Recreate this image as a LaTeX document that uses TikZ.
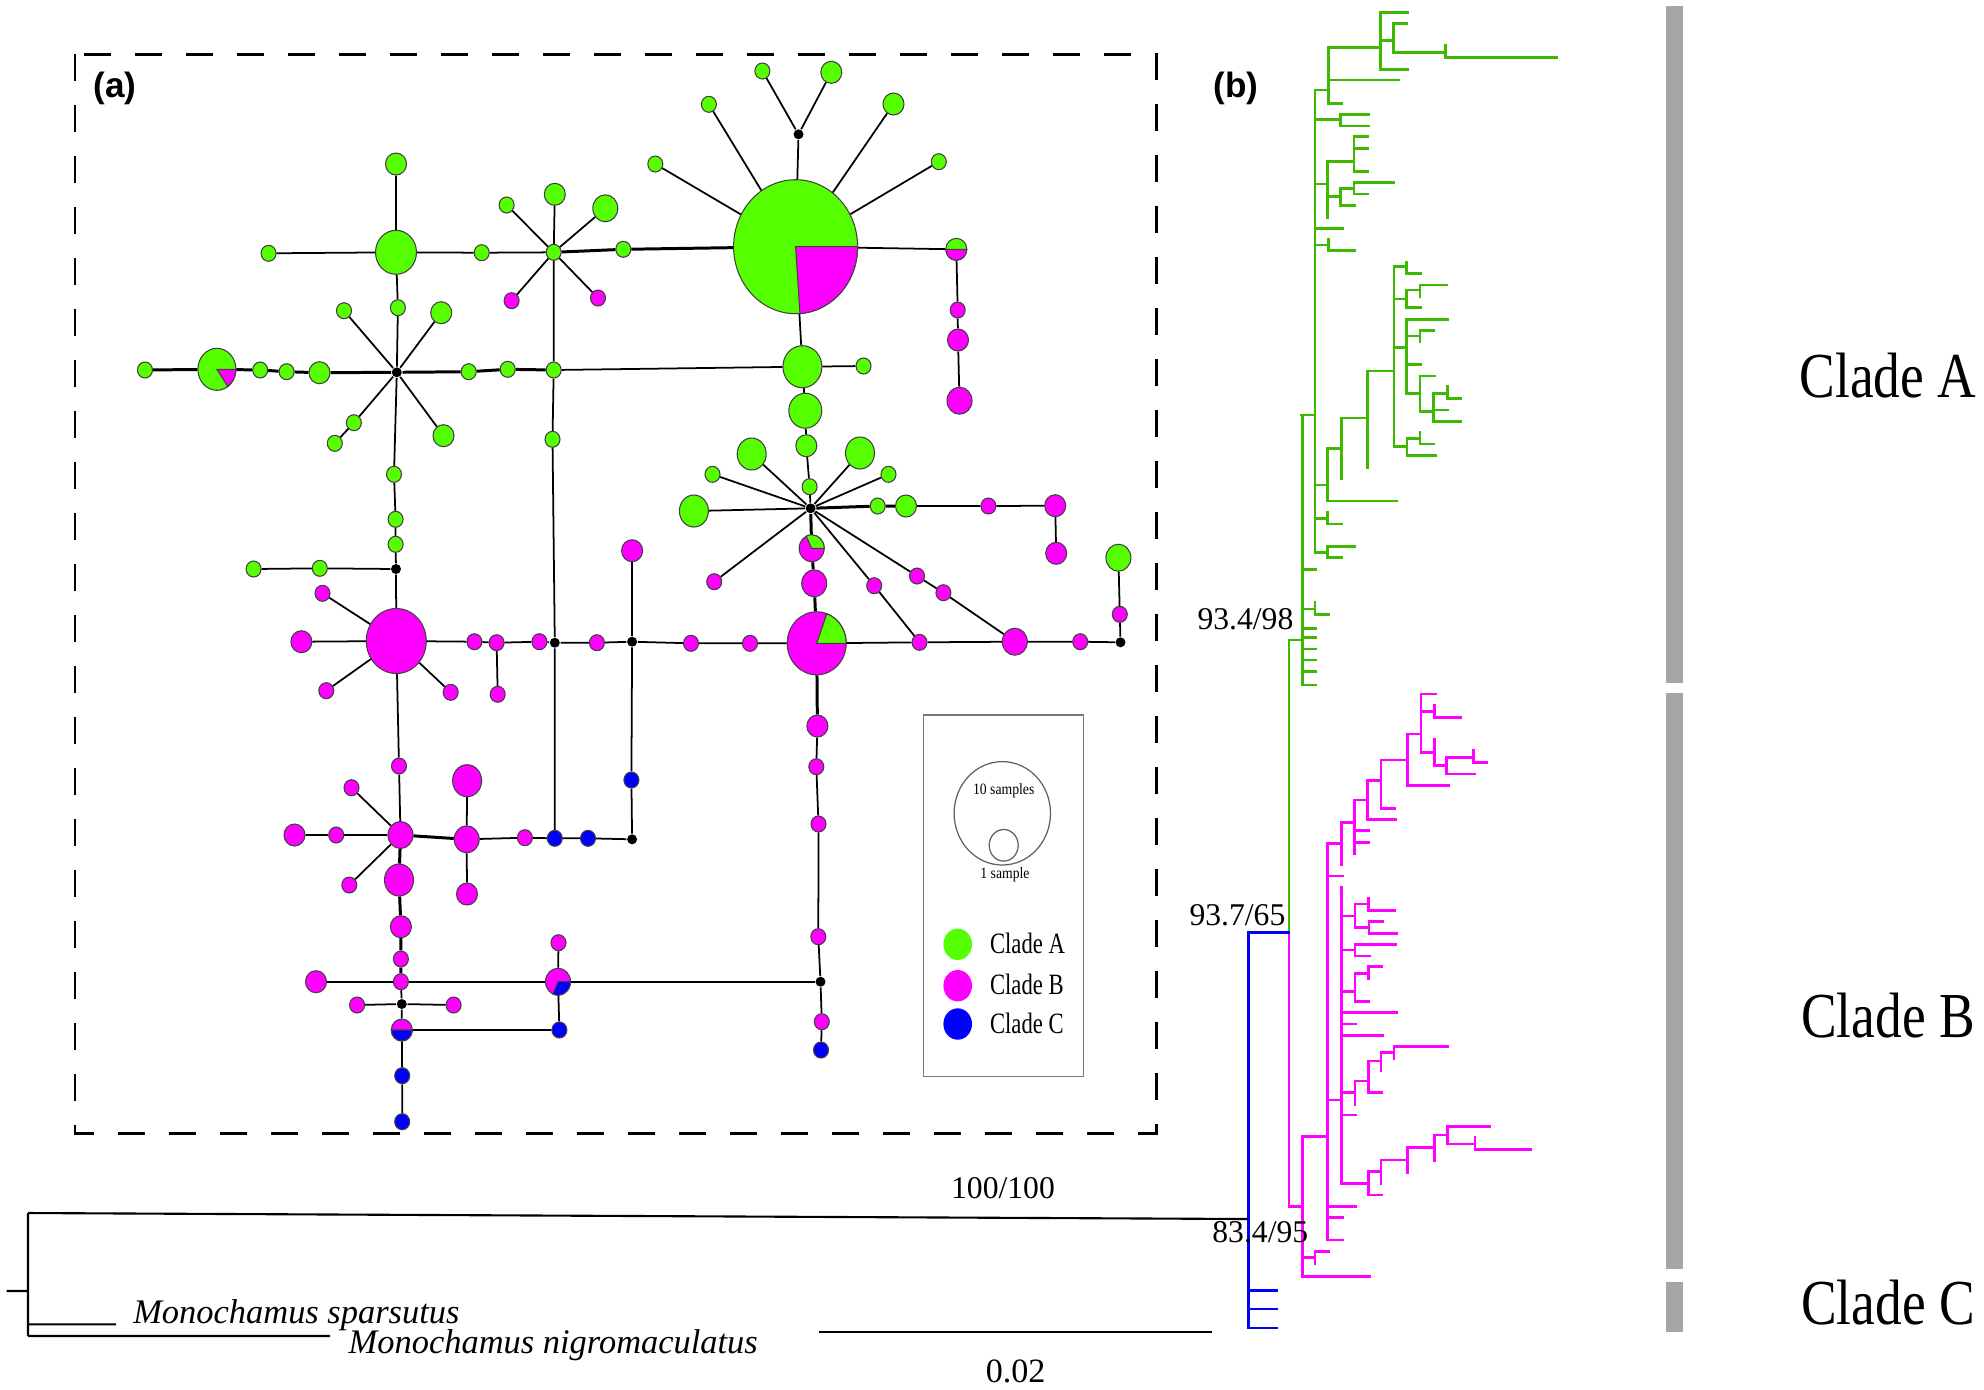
\documentclass[tikz,border=0pt]{standalone}
\usepackage{fontspec}
\setmainfont{Liberation Serif}
\newfontfamily\panelfont{Liberation Sans}
\usetikzlibrary{shapes.geometric}

\definecolor{cladeA}{RGB}{85,255,0}
\definecolor{treeA}{RGB}{60,185,0}
\definecolor{cladeB}{RGB}{255,0,255}
\definecolor{cladeC}{RGB}{0,0,255}
\definecolor{barg}{RGB}{166,166,166}
\definecolor{boxg}{RGB}{120,120,120}

\tikzset{
  hap/.style={ellipse, draw=black!75, line width=0.3pt, inner sep=0pt},
  hA/.style={hap, fill=cladeA},
  hB/.style={hap, fill=cladeB},
  hC/.style={hap, fill=cladeC},
  sz1/.style={minimum width=1.5mm, minimum height=1.6mm},
  sz2/.style={minimum width=2.1mm, minimum height=2.2mm},
  sz3/.style={minimum width=2.5mm, minimum height=2.7mm},
  sz4/.style={minimum width=2.9mm, minimum height=3.2mm},
  mv/.style={circle, fill=black, inner sep=0pt, minimum size=1mm},
  lnk/.style={line width=0.5pt},
  lnkb/.style={line width=0.85pt},
  pieedge/.style={draw=black!75, line width=0.3pt},
  br/.style={line width=0.7pt, line cap=rect},
  tlbl/.style={font=\fontsize{9}{11}\selectfont, inner sep=0pt},
  clbl/.style={font=\fontsize{15.2}{18}\selectfont, inner sep=0pt},
  panel/.style={font=\panelfont\bfseries\fontsize{10}{12}\selectfont, inner sep=0pt},
  leg/.style={font=\fontsize{6.45}{8}\selectfont, inner sep=0pt},
  legs/.style={font=\fontsize{3.9}{4.7}\selectfont, inner sep=0pt},
  spname/.style={font=\itshape\fontsize{9.8}{12}\selectfont, inner sep=0pt},
}

\begin{document}
\begin{tikzpicture}[x=0.1mm, y=-0.1mm]
\useasboundingbox (0,0) rectangle (1984,1389);

% (a) haplotype network
\draw[line width=0.85pt, dash pattern=on 2.7mm off 2.4mm] (75,54) rectangle (1156,1133);
\node[panel] (pa) at (115,88) {(a)};

% clade A core
\node[hA, minimum width=12.4mm, minimum height=13.4mm] (H) at (795.6,246.7) {};
\node[mv] (k1) at (798.5,134.3) {};
\node[hA,sz1] (g1) at (762.4,71) {};
\node[hA,sz2] (g2) at (831.3,72.3) {};
\node[hA,sz1] (g3) at (708.9,104.3) {};
\node[hA,sz2] (g4) at (893.5,104) {};
\node[hA,sz1] (g5) at (655.3,164) {};
\node[hA,sz1] (g6) at (938.8,161.7) {};
\node[hA,sz2] (gm1) at (956.3,249.3) {};
\node[hB,sz1] (m1) at (957.7,310) {};
\node[hB,sz2] (m2) at (958,340) {};
\node[hB,sz3] (m3) at (959.5,400.7) {};
\node[hA,sz1] (g7) at (623.3,249.3) {};
\node[hA,sz3] (g8) at (605.3,208.3) {};
\node[hB,sz1] (m4) at (598,298) {};
\node[hA,sz1] (g10) at (553.7,252.3) {};
\node[hA,sz1] (g11) at (506.6,205) {};
\node[hA,sz2] (g12) at (554.8,194.3) {};
\node[hB,sz1] (m5) at (511.6,300.7) {};
\node[hA,sz1] (g13) at (481.7,252.7) {};
\node[hA, minimum width=4.1mm, minimum height=4.4mm] (g14) at (396,252.3) {};
\node[hA,sz2] (g15) at (396,164) {};
\node[hA,sz1] (g16) at (268.6,253.3) {};
\node[hA,sz1] (g17) at (397.9,307.7) {};
\node[mv] (k2) at (396.8,372.3) {};
\node[hA,sz1] (g18) at (344,310.7) {};
\node[hA,sz2] (g19) at (441.2,312.7) {};
\node[hA,sz1] (g20) at (353.9,422.7) {};
\node[hA,sz1] (g21) at (334.8,443.3) {};
\node[hA,sz2] (g22) at (443.5,435.7) {};
\node[hA,sz1] (g23) at (394,474.3) {};
\node[hA,sz1] (g24) at (145,370) {};
\node[hA, minimum width=3.8mm, minimum height=4.2mm] (P1) at (216.9,369.3) {};
\node[hA,sz1] (g25) at (260.2,370) {};
\node[hA,sz1] (g26) at (286.6,371.7) {};
\node[hA,sz2] (g27) at (319.5,372.7) {};
\node[hA,sz1] (g28) at (468.7,371.7) {};
\node[hA,sz1] (g29) at (507.7,369.3) {};
\node[hA,sz1] (g30) at (553.7,370) {};
\node[hA,sz1] (g31) at (552.5,439.3) {};
\node[hA, minimum width=3.9mm, minimum height=4.2mm] (g32) at (802.4,366.7) {};
\node[hA,sz1] (g33) at (863.5,366) {};
\node[hA, minimum width=3.3mm, minimum height=3.5mm] (g34) at (805.3,410.7) {};
\node[hA,sz2] (g35) at (806.3,445.7) {};
\node[hA,sz1] (g36) at (809.6,486.7) {};
\node[mv] (k3) at (810.6,508.3) {};
\node[hA,sz4] (g37) at (751.7,454) {};
\node[hA,sz4] (g38) at (860,453) {};
\node[hA,sz1] (g39) at (712.5,474.3) {};
\node[hA,sz1] (g40) at (888.5,474.3) {};
\node[hA,sz4] (g41) at (693.9,511) {};
\node[hA,sz1] (g42) at (877.7,506) {};
\node[hA,sz2] (g43) at (906,506) {};
\node[hB,sz1] (m6) at (988.4,506) {};
\node[hB,sz2] (m7) at (1055.2,505.7) {};
\node[hB,sz2] (m8) at (1056.2,553.3) {};
\node[hB,sz1] (m9) at (714.2,581.7) {};
\node[hB,sz3] (P3) at (811.7,548.3) {};
\node[hB,sz3] (m10) at (814.2,583.3) {};
\node[hB, minimum width=5.9mm, minimum height=6.3mm] (P2) at (816.7,643.3) {};
\node[hB,sz1] (m11) at (874.2,585.7) {};
\node[hB,sz1] (m12) at (919.5,642.3) {};
\node[hB,sz1] (m13) at (917,576) {};
\node[hB,sz1] (m14) at (943.4,592.7) {};
\node[hB,sz3] (m15) at (1014.8,641.7) {};
\node[hB,sz1] (m16) at (1080.2,641.7) {};
\node[mv] (k4) at (1120.5,642.3) {};
\node[hB,sz1] (m17) at (1119.8,614.3) {};
\node[hA,sz3] (g44) at (1118.4,557.7) {};
\node[hB,sz1] (m18) at (691,643.3) {};
\node[hB,sz1] (m19) at (750,643.3) {};
\node[mv] (k5) at (632.1,641.7) {};
\node[hB,sz2] (m20) at (632.1,550.7) {};
\node[hC,sz1] (b1) at (631.4,780) {};
\node[mv] (k6) at (632.1,839.3) {};
\node[hB,sz2] (m21) at (817.4,726) {};
\node[hB,sz1] (m22) at (816.3,766.7) {};
\node[hB,sz1] (m23) at (818.5,824) {};
\node[hB,sz1] (m24) at (818.3,936.7) {};
\node[mv] (k7) at (820.5,981.7) {};
\node[hB,sz1] (m25) at (821.8,1021.7) {};
\node[hC,sz1] (b2) at (821,1050) {};

% clade B core
\node[hA,sz1] (g45) at (395.6,519.3) {};
\node[hA,sz1] (g46) at (395.6,544.3) {};
\node[mv] (k8) at (396,569) {};
\node[hA,sz1] (g47) at (319.8,568.3) {};
\node[hA,sz1] (g48) at (253.6,569) {};
\node[hB, minimum width=6mm, minimum height=6.5mm] (m26) at (396.3,641) {};
\node[hB,sz1] (m27) at (322.5,593.3) {};
\node[hB,sz2] (m28) at (301.4,641.7) {};
\node[hB,sz1] (m29) at (326.3,690.7) {};
\node[hB,sz1] (m30) at (450.7,692.3) {};
\node[hB,sz1] (m31) at (474.4,641.7) {};
\node[hB,sz1] (m32) at (496.6,642.7) {};
\node[hB,sz1] (m33) at (497.7,694.3) {};
\node[hB,sz1] (m34) at (539.4,641.7) {};
\node[mv] (k9) at (554.8,642.7) {};
\node[hB,sz1] (m35) at (596.9,642.7) {};
\node[hB,sz1] (m36) at (399,766) {};
\node[hB,sz3] (m37) at (400.5,835) {};
\node[hB,sz1] (m38) at (351.5,787.7) {};
\node[hB,sz1] (m39) at (336.2,835) {};
\node[hB,sz2] (m40) at (294.5,835) {};
\node[hB,sz1] (m41) at (349.3,885) {};
\node[hB,sz4] (m42) at (399,880) {};
\node[hB,sz3] (m43) at (466.7,839.3) {};
\node[hB,sz4] (m44) at (467.1,780.7) {};
\node[hB,sz2] (m45) at (467,894) {};
\node[hB,sz1] (m46) at (524.9,837.7) {};
\node[hC,sz1] (b3) at (554.8,838.3) {};
\node[hC,sz1] (b4) at (588,838.3) {};
\node[hB,sz2] (m47) at (400.9,926.7) {};
\node[hB,sz1] (m48) at (400.9,959) {};
\node[hB,sz1] (m49) at (400.9,981.7) {};
\node[hB,sz2] (m50) at (316,981.7) {};
\node[mv] (k10) at (401.8,1004) {};
\node[hB,sz1] (m51) at (357.1,1005) {};
\node[hB,sz1] (m52) at (453.6,1005) {};
\node[hB,sz2] (P4) at (401.8,1030) {};
\node[hC,sz1] (b5) at (402.2,1075.7) {};
\node[hC,sz1] (b6) at (402.2,1121.7) {};
\node[hB,sz1] (m53) at (558.5,942.7) {};
\node[hB,sz3] (P5) at (558,981.7) {};
\node[hC,sz1] (b7) at (559.4,1030) {};

% mixed haplotypes
\filldraw[pieedge, fill=cladeB] (H.center) -- ++(-86:6.2mm and 6.7mm) arc[start angle=-86, end angle=0, x radius=6.2mm, y radius=6.7mm] -- cycle;
\filldraw[pieedge, fill=cladeB] (gm1.center) -- ++(180:1.05mm and 1.1mm) arc[start angle=180, end angle=360, x radius=1.05mm, y radius=1.1mm] -- cycle;
\filldraw[pieedge, fill=cladeB] (P1.center) -- ++(-55:1.9mm and 2.1mm) arc[start angle=-55, end angle=0, x radius=1.9mm, y radius=2.1mm] -- cycle;
\filldraw[pieedge, fill=cladeA] (P3.center) -- ++(0:1.25mm and 1.35mm) arc[start angle=0, end angle=116, x radius=1.25mm, y radius=1.35mm] -- cycle;
\filldraw[pieedge, fill=cladeA] (P2.center) -- ++(0:2.95mm and 3.15mm) arc[start angle=0, end angle=70, x radius=2.95mm, y radius=3.15mm] -- cycle;
\filldraw[pieedge, fill=cladeC] (P4.center) -- ++(180:1.05mm and 1.1mm) arc[start angle=180, end angle=360, x radius=1.05mm, y radius=1.1mm] -- cycle;
\filldraw[pieedge, fill=cladeC] (P5.center) -- ++(-114:1.25mm and 1.35mm) arc[start angle=-114, end angle=0, x radius=1.25mm, y radius=1.35mm] -- cycle;

% links
\draw[lnk] (H) -- (k1) (k1) -- (g1) (k1) -- (g2) (H) -- (g3) (H) -- (g4) (H) -- (g5) (H) -- (g6) (H) -- (gm1) -- (m1) -- (m2) -- (m3);
\draw[lnkb] (g10) -- (g7) -- (H);
\draw[lnk] (H) -- (g32) -- (g34) -- (g35) -- (g36) -- (k3);
\draw[lnk] (g32) -- (g33);
\draw[lnk] (g10) -- (g11) (g10) -- (g12) (g10) -- (g8) (g10) -- (m5) (g10) -- (m4) (g10) -- (g13) -- (g14);
\draw[lnk] (g10) -- (g30) -- (g31) -- (k9) -- (b3);
\draw[lnk] (g14) -- (g15) (g14) -- (g16) (g14) -- (g17) -- (k2);
\draw[lnk] (k2) -- (g18) (k2) -- (g19) (k2) -- (g20) -- (g21) (k2) -- (g22) (k2) -- (g23);
\draw[lnkb] (g24) -- (P1) -- (g25) -- (g26) -- (g27) -- (k2) -- (g28) -- (g29) -- (g30);
\draw[lnk] (g30) -- (g32);
\draw[lnk] (g23) -- (g45) -- (g46) -- (k8) -- (m26);
\draw[lnk] (k8) -- (g47) -- (g48);
\draw[lnk] (k3) -- (g37) (k3) -- (g38) (k3) -- (g39) (k3) -- (g40) (k3) -- (g41) (k3) -- (m9) (k3) -- (m11) -- (m12) (k3) -- (m13) -- (m14) -- (m15);
\draw[lnkb] (k3) -- (g42) -- (g43);
\draw[lnk] (g43) -- (m6) -- (m7) -- (m8);
\draw[lnkb] (k3) -- (P3) -- (m10) -- (P2);
\draw[lnk] (k5) -- (m18) -- (m19) -- (P2) -- (m12) -- (m15) -- (m16) -- (k4) -- (m17) -- (g44);
\draw[lnk] (k5) -- (m20) (k5) -- (b1) -- (k6);
\draw[lnkb] (P2) -- (m21);
\draw[lnk] (m21) -- (m22) -- (m23) -- (m24) -- (k7) -- (m25) -- (b2);
\draw[lnk] (m26) -- (m27) (m26) -- (m28) (m26) -- (m29) (m26) -- (m30);
\draw[lnk] (m26) -- (m31) -- (m32) -- (m34) -- (k9) -- (m35) -- (k5);
\draw[lnk] (m32) -- (m33);
\draw[lnk] (m26) -- (m36) -- (m37);
\draw[lnk] (m37) -- (m38) (m37) -- (m41) (m37) -- (m39) -- (m40);
\draw[lnkb] (m37) -- (m42) -- (m47) -- (m48) -- (m49);
\draw[lnkb] (m37) -- (m43);
\draw[lnk] (m43) -- (m44) (m43) -- (m45) (m43) -- (m46) -- (b3) -- (b4) -- (k6);
\draw[lnk] (m49) -- (k10) -- (P4) -- (b5) -- (b6);
\draw[lnk] (k10) -- (m51) (k10) -- (m52);
\draw[lnk] (m50) -- (m49) -- (P5) -- (k7);
\draw[lnk] (P4) -- (b7) -- (P5) -- (m53);

% legend
\draw[boxg, line width=0.4pt] (923.3,715) rectangle (1083.3,1076.7);
\draw[boxg!80!black, line width=0.35pt] (1002.3,813.3) ellipse[x radius=4.82mm, y radius=5.17mm];
\draw[boxg!80!black, line width=0.35pt] (1003.7,845.3) ellipse[x radius=1.45mm, y radius=1.58mm];
\node[legs] (ten) at (1003.7,791) {\scalebox{1}[1.15]{10 samples}};
\node[legs] (one) at (1005,875) {\scalebox{1}[1.15]{1 sample}};
\node[ellipse, fill=cladeA, minimum width=2.86mm, minimum height=3.14mm, inner sep=0pt] (keyA) at (957.7,944.3) {};
\node[ellipse, fill=cladeB, minimum width=2.86mm, minimum height=3.14mm, inner sep=0pt] (keyB) at (957.7,985.7) {};
\node[ellipse, fill=cladeC, minimum width=2.86mm, minimum height=3.14mm, inner sep=0pt] (keyC) at (957.7,1024) {};
\node[leg, anchor=west] (keyAt) at (989.3,943.3) {\scalebox{1}[1.3]{Clade A}};
\node[leg, anchor=west] (keyBt) at (989.3,984.3) {\scalebox{1}[1.3]{Clade B}};
\node[leg, anchor=west] (keyCt) at (989.3,1023.3) {\scalebox{1}[1.3]{Clade C}};

% (b) tree
\node[panel] (pb) at (1236,88) {(b)};

% clade A branches
\draw[treeA, br] (1315,90)--(1315,552.3) (1301.7,415)--(1315,415)
 (1315,90)--(1328.3,90) (1328.3,47.7)--(1328.3,103.3)
 (1328.3,47.7)--(1380.7,47.7) (1380.7,12.3)--(1380.7,69.3)
 (1380.7,12.3)--(1407.3,12.3) (1380.7,40.7)--(1393.3,40.7) (1393.3,23.3)--(1393.3,52.3)
 (1393.3,23.3)--(1406.7,23.3) (1393.3,52.3)--(1445.7,52.3) (1445.7,45.7)--(1445.7,57.7)--(1556.7,57.7)
 (1380.7,69.3)--(1407.3,69.3) (1328.3,80)--(1399,80) (1328.3,103.3)--(1341.7,103.3)
 (1315,119.3)--(1340.7,119.3) (1340.7,114.3)--(1340.7,126) (1340.7,114.3)--(1369,114.3) (1340.7,126)--(1369,126)
 (1315,184)--(1327.7,184) (1327.7,161.7)--(1327.7,217.3)
 (1327.7,161.7)--(1354,161.7) (1354,136.7)--(1354,171.7) (1354,136.7)--(1367.7,136.7) (1354,148.3)--(1367.7,148.3) (1354,171.7)--(1367.7,171.7)
 (1327.7,196.7)--(1340.7,196.7) (1340.7,188.3)--(1340.7,205.7) (1340.7,188.3)--(1354,188.3) (1354,182.7)--(1354,194)
 (1354,182.7)--(1393.3,182.7) (1354,194)--(1367.7,194) (1340.7,205.7)--(1354.3,205.7)
 (1315,228.3)--(1342.3,228.3)
 (1315,245)--(1328.3,245) (1328.3,239)--(1328.3,250.7) (1328.3,250.7)--(1355,250.7)
 (1315,485)--(1327.7,485) (1327.7,448.3)--(1327.7,501) (1327.7,501)--(1396.7,501)
 (1327.7,448.3)--(1341.7,448.3) (1341.7,418)--(1341.7,479)
 (1341.7,418)--(1367.7,418) (1367.7,371)--(1367.7,467.3)
 (1367.7,371)--(1394,371) (1394,266.7)--(1394,446.7)
 (1394,266.7)--(1406.7,266.7) (1406.7,262.3)--(1406.7,273.3) (1406.7,273.3)--(1420.7,273.3)
 (1394,299)--(1406.7,299) (1406.7,290)--(1406.7,307.3) (1406.7,290)--(1420,290) (1420,285)--(1420,296.7) (1420,285)--(1446.7,285) (1406.7,307.3)--(1420.7,307.3)
 (1394,347.3)--(1406.7,347.3) (1406.7,319.3)--(1406.7,393.3) (1406.7,319.3)--(1447.7,319.3)
 (1406.7,336)--(1420,336) (1420,330.7)--(1420,341.7) (1420,330.7)--(1434,330.7) (1406.7,364.3)--(1420.7,364.3)
 (1406.7,393.3)--(1420,393.3) (1420,376)--(1420,411.7) (1420,376)--(1434.3,376)
 (1420,411.7)--(1433.3,411.7) (1433.3,393.3)--(1433.3,421.7) (1433.3,393.3)--(1447.3,393.3)
 (1447.3,386.7)--(1447.3,398.3) (1447.3,398.3)--(1461,398.3) (1433.3,410)--(1447.7,410) (1433.3,421.7)--(1461,421.7)
 (1394,446.7)--(1407,446.7) (1407,438.3)--(1407,455.7) (1407,438.3)--(1420,438.3) (1420,432.7)--(1420,444)
 (1420,444)--(1434,444) (1407,455.7)--(1435.7,455.7)
 (1315,518.3)--(1327.7,518.3) (1327.7,512.7)--(1327.7,524) (1327.7,524)--(1341.7,524)
 (1315,552.3)--(1327.7,552.3) (1327.7,546.7)--(1327.7,557.7) (1327.7,546.7)--(1355,546.7) (1327.7,557.7)--(1341.7,557.7)
 (1302.3,415)--(1302.3,685)
 (1302.3,569.3)--(1316,569.3) (1302.3,628.3)--(1316,628.3) (1302.3,637.3)--(1316,637.3) (1302.3,649)--(1316,649)
 (1302.3,660)--(1316,660) (1302.3,671.7)--(1316,671.7) (1302.3,685)--(1316,685)
 (1302.3,609)--(1315,609) (1315,602.7)--(1315,614.3) (1315,614.3)--(1329,614.3)
 (1289,640)--(1302.3,640) (1289,640)--(1289,932.3);

% clade B branches
\draw[cladeB, br] (1289,932.3)--(1289,1206.7)--(1302.3,1206.7) (1302.3,1136.7)--(1302.3,1276.7)
 (1302.3,1136.7)--(1327.7,1136.7) (1302.3,1257.7)--(1315,1257.7) (1315,1251.7)--(1315,1263.3)
 (1315,1251.7)--(1328.3,1251.7) (1302.3,1276.7)--(1369.3,1276.7)
 (1327.7,843.3)--(1327.7,1240)
 (1327.7,843.3)--(1341.7,843.3) (1341.7,822.3)--(1341.7,865)
 (1341.7,822.3)--(1354.3,822.3) (1354.3,800)--(1354.3,853.3)
 (1354.3,800)--(1367.3,800) (1367.3,780.7)--(1367.3,819.3)
 (1367.3,780.7)--(1381,780.7) (1381,760)--(1381,808.3)
 (1381,760)--(1407.3,760) (1407.3,734)--(1407.3,785.7)
 (1407.3,734)--(1421,734) (1421,694)--(1421,752.7)
 (1421,694)--(1435.7,694) (1421,711.7)--(1434.3,711.7) (1434.3,705.7)--(1434.3,717.3) (1434.3,717.3)--(1461,717.3)
 (1421,752.7)--(1434.3,752.7) (1434.3,739.3)--(1434.3,765.7) (1434.3,765.7)--(1446.7,765.7)
 (1446.7,757.3)--(1446.7,774) (1446.7,757.3)--(1473.3,757.3) (1473.3,750.7)--(1473.3,762.3)
 (1473.3,762.3)--(1486.7,762.3) (1446.7,774)--(1475,774)
 (1407.3,785.7)--(1449,785.7) (1381,808.3)--(1395,808.3) (1367.3,819.3)--(1396,819.3)
 (1354.3,830.7)--(1368.3,830.7) (1354.3,842.3)--(1368.3,842.3)
 (1327.7,876)--(1342.3,876)
 (1327.7,1100)--(1341.7,1100) (1341.7,887.3)--(1341.7,1183.3)
 (1341.7,916)--(1355,916) (1355,904)--(1355,927.3) (1355,904)--(1368.3,904) (1368.3,898.3)--(1368.3,910.7)
 (1368.3,910.7)--(1395,910.7) (1355,927.3)--(1369,927.3) (1369,921.7)--(1369,933.3)
 (1369,921.7)--(1382.7,921.7) (1369,933.3)--(1396.7,933.3)
 (1341.7,950)--(1355,950) (1355,944.3)--(1355,956) (1355,944.3)--(1396,944.3) (1355,956)--(1369.3,956)
 (1341.7,991.7)--(1355,991.7) (1355,973.3)--(1355,1001.7) (1355,973.3)--(1368.3,973.3)
 (1368.3,966.7)--(1368.3,979) (1368.3,966.7)--(1381.7,966.7) (1355,1001.7)--(1369,1001.7)
 (1341.7,1012.7)--(1396.7,1012.7) (1341.7,1024)--(1355.7,1024) (1341.7,1035.7)--(1382.7,1035.7)
 (1341.7,1092.7)--(1355,1092.7) (1355,1081)--(1355,1104.3) (1355,1081)--(1368.3,1081)
 (1368.3,1061)--(1368.3,1092.3) (1368.3,1061)--(1381,1061) (1381,1052.3)--(1381,1070.7)
 (1381,1052.3)--(1394,1052.3) (1394,1046.7)--(1394,1059) (1394,1046.7)--(1447.7,1046.7) (1368.3,1092.3)--(1381.7,1092.3)
 (1341.7,1115)--(1355.7,1115)
 (1341.7,1183.3)--(1368.3,1183.3) (1368.3,1171.7)--(1368.3,1195) (1368.3,1171.7)--(1381,1171.7)
 (1381,1160)--(1381,1183.3) (1381,1160)--(1407.7,1160) (1407.7,1147.3)--(1407.7,1172.3)
 (1407.7,1147.3)--(1434.3,1147.3) (1434.3,1135)--(1434.3,1161) (1434.3,1135)--(1447.7,1135)
 (1447.7,1126.7)--(1447.7,1144) (1447.7,1126.7)--(1490,1126.7) (1447.7,1144)--(1475,1144)
 (1475,1137.7)--(1475,1149.3) (1475,1149.3)--(1531,1149.3) (1368.3,1195)--(1381.7,1195)
 (1327.7,1206.7)--(1355.7,1206.7) (1327.7,1217.7)--(1342.3,1217.7) (1327.7,1240)--(1342.3,1240);

% clade C branches
\draw[cladeC, br] (1248.3,932.3)--(1289,932.3) (1248.3,932.3)--(1248.3,1328)
 (1248.3,1290.7)--(1276.7,1290.7) (1248.3,1309)--(1276.7,1309) (1248.3,1328)--(1276.7,1328);

% outgroups and scale
\draw[line width=0.6pt] (28,1213)--(1248.3,1219) (6.6,1291)--(28,1291) (28,1213)--(28,1336)
 (28,1324.3)--(116,1324.3) (28,1336)--(330,1336);
\draw[line width=0.65pt] (819,1331.7)--(1212,1331.7);

\node[tlbl] (s100) at (1003,1188.3) {100/100};
\node[tlbl, anchor=west] (s834) at (1211.7,1231.7) {83.4/95};
\node[tlbl, anchor=east] (s937) at (1286,915) {93.7/65};
\node[tlbl, anchor=east] (s934) at (1294,619) {93.4/98};
\node[font=\fontsize{9.7}{11}\selectfont, inner sep=0pt] (scl) at (1015.6,1371.7) {0.02};
\node[spname, anchor=west] (sp1) at (132.6,1315) {Monochamus sparsutus};
\node[spname, anchor=west] (sp2) at (348,1345) {Monochamus nigromaculatus};

% clade bars
\fill[barg] (1666,6) rectangle (1683,683);
\fill[barg] (1666,693) rectangle (1683,1269);
\fill[barg] (1666,1282) rectangle (1683,1332);
\node[clbl] (cA) at (1888,376) {\scalebox{1}[1.2]{Clade A}};
\node[clbl] (cB) at (1888,1016) {\scalebox{1}[1.2]{Clade B}};
\node[clbl] (cC) at (1888,1303) {\scalebox{1}[1.2]{Clade C}};
\end{tikzpicture}
\end{document}
